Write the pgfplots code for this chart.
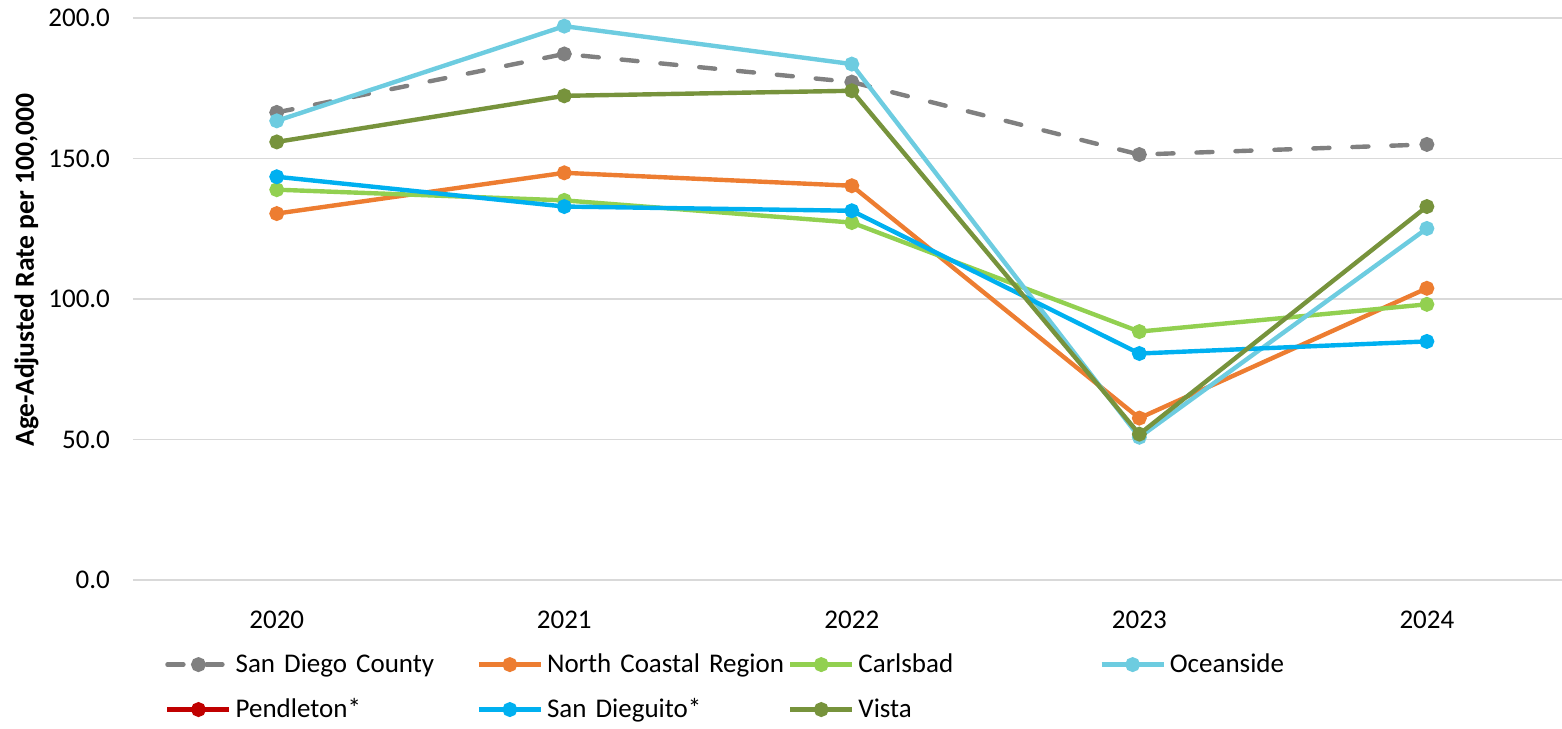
\documentclass[border=0pt]{standalone}
\usepackage{fontspec}
\setmainfont{Carlito}
\usepackage{pgfplots}
\pgfplotsset{compat=1.18}
\definecolor{csdc}{HTML}{808080}
\definecolor{cnc}{HTML}{ED7D31}
\definecolor{ccar}{HTML}{92D050}
\definecolor{coce}{HTML}{6DCCE0}
\definecolor{cpen}{HTML}{C00000}
\definecolor{csdg}{HTML}{00B0F0}
\definecolor{cvis}{HTML}{77933C}
\definecolor{cgrid}{HTML}{D9D9D9}
\begin{document}
\begin{tikzpicture}
\useasboundingbox (0,0) rectangle (781pt,364pt);
\begin{axis}[
  at={(66.5pt,74pt)}, anchor=south west,
  scale only axis, width=714.5pt, height=281pt,
  xmin=-0.5, xmax=4.47, ymin=0, ymax=200,
  xtick={0,1,2,3,4}, xticklabels={2020,2021,2022,2023,2024},
  ytick={0,50,100,150,200},
  yticklabel style={/pgf/number format/fixed, /pgf/number format/fixed zerofill, /pgf/number format/precision=1, xshift=-8pt},
  /pgf/number format/assume math mode=true,
  ymajorgrids, grid style={cgrid, line width=0.75pt},
  axis line style={draw=none},
  major tick length=0pt,
  tick label style={font=\fontsize{13.5}{16}\selectfont, black},
  xticklabel style={yshift=-12pt},
  ylabel={\bfseries Age-Adjusted Rate per 100,000},
  ylabel style={font=\fontsize{13.8}{16}\selectfont, yshift=-2pt, xshift=14.5pt},
  every axis plot/.append style={line width=2.2pt, mark=*, mark size=2.6pt, mark options={solid}},
  legend image code/.code={\draw[mark repeat=2,mark phase=2,#1] plot coordinates {(0pt,0pt) (15.5pt,0pt) (31pt,0pt)};},
  legend columns=4,
  legend style={draw=none, at={(0.0181,-0.118)}, anchor=north west,
    font=\fontsize{13.5}{16}\selectfont,
    nodes={text width=119pt, align=left, inner sep=1.5pt},
    /tikz/every odd column/.append style={column sep=0.5pt},
    /tikz/every even column/.append style={column sep=0pt},
    row sep=8.5pt},
  legend cell align=left,
  clip=false,
]
\draw[cgrid, line width=0.75pt] (axis cs:-0.5,0) -- (axis cs:4.47,0);
\addplot[csdc, line cap=round, dash pattern=on 8pt off 11.5pt, mark options={fill=csdc, solid}] coordinates {(0,166.4) (1,187.2) (2,177.2) (3,151.4) (4,155.0)};
\addlegendentry{San Diego County}
\addplot[cnc, mark options={fill=cnc}] coordinates {(0,130.4) (1,144.9) (2,140.3) (3,57.6) (4,103.8)};
\addlegendentry{North Coastal Region}
\addplot[ccar, mark options={fill=ccar}] coordinates {(0,138.9) (1,135.1) (2,127.2) (3,88.4) (4,98.1)};
\addlegendentry{Carlsbad}
\addplot[coce, mark options={fill=coce}] coordinates {(0,163.4) (1,197.1) (2,183.6) (3,50.8) (4,125.1)};
\addlegendentry{Oceanside}
\addlegendimage{cpen, line width=2.2pt, mark=*, mark size=2.6pt, mark options={fill=cpen, solid}}
\addlegendentry{Pendleton*}
\addplot[csdg, mark options={fill=csdg}] coordinates {(0,143.5) (1,132.9) (2,131.4) (3,80.6) (4,84.9)};
\addlegendentry{San Dieguito*}
\addplot[cvis, mark options={fill=cvis}] coordinates {(0,155.9) (1,172.3) (2,174.1) (3,51.9) (4,132.9)};
\addlegendentry{Vista}
\end{axis}
\end{tikzpicture}
\end{document}
